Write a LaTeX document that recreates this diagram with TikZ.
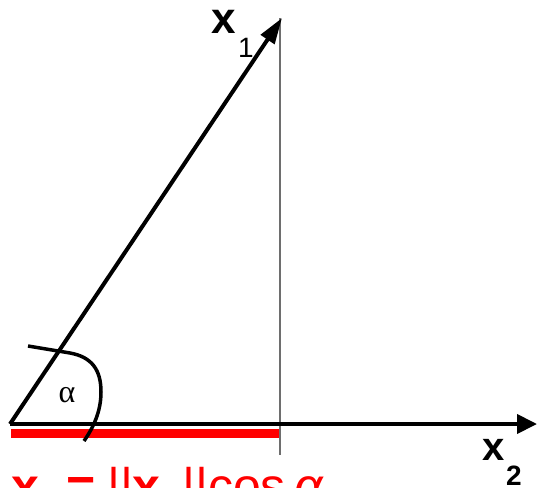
\documentclass[tikz,border=0pt]{standalone}
\usepackage{fontspec}
\setmainfont{Liberation Sans}
\newfontfamily\serifgr{Liberation Serif}
\usetikzlibrary{arrows.meta}
\definecolor{vgray}{RGB}{110,110,110}
\definecolor{pred}{RGB}{255,0,0}
\tikzset{
  thickline/.style={line width=4pt, black},
  lbl/.style={inner sep=0pt, outer sep=0pt, anchor=base west},
  bigbold/.style={font=\fontsize{44}{44}\selectfont\bfseries},
  midbold/.style={font=\fontsize{40}{40}\selectfont\bfseries},
  subreg/.style={font=\fontsize{28}{28}\selectfont},
  subbold/.style={font=\fontsize{28}{28}\selectfont\bfseries},
  formula/.style={font=\fontsize{50}{50}\selectfont, text=pred},
}
\begin{document}
\begin{tikzpicture}[x=1pt,y=-1pt]
\clip (0,0) rectangle (539,488);
\fill[white] (0,0) rectangle (539,488);
\coordinate (O) at (10,424);
\coordinate (V) at (282,18);
\coordinate (E) at (537,424);
\coordinate (Vt) at (280,18);
\coordinate (Vb) at (280,455);
\coordinate (R1) at (11,433);
\coordinate (R2) at (279,433);
% projection bar
\draw[line width=9pt, pred, line cap=butt] (R1) -- (R2);
% thin vertical drop line
\draw[line width=1.3pt, vgray] (Vt) -- (Vb);
% axis x2
\draw[thickline, -{Triangle[length=20pt,width=19pt]}] (O) -- (E);
% vector x1
\draw[thickline, -{Triangle[length=26pt,width=16pt]}] (O) -- (V);
% angle arc
\draw[line width=3.5pt, line cap=butt] (28,346) -- (70,353)
  .. controls (92,357) and (101,370) .. (101,392)
  .. controls (101,412) and (93,428) .. (84,441);
\node[font=\serifgr\fontsize{32}{32}\selectfont, inner sep=0pt] (al) at (67,395) {α};
% axis labels
\node[lbl, bigbold] (x1) at (211,33) {x};
\node[lbl, subreg] (s1) at (238,57) {1};
\node[lbl, midbold] (x2) at (482,460) {x};
\node[lbl, subbold] (s2) at (506,485) {2};
% formula (cut off at the bottom)
\node[lbl, formula] (b1) at (12,503) {\textbf{x}\textsubscript{2}};
\node[lbl, formula] (b2) at (66,503) {\textbf{=}};
\node[lbl, formula] (b3) at (107,503) {||\textbf{x}\textsubscript{1}};
\node[lbl, formula] (b4) at (182,503) {||cos};
\node[lbl, formula] (b5) at (294,503) {\itshape α};
\end{tikzpicture}
\end{document}
